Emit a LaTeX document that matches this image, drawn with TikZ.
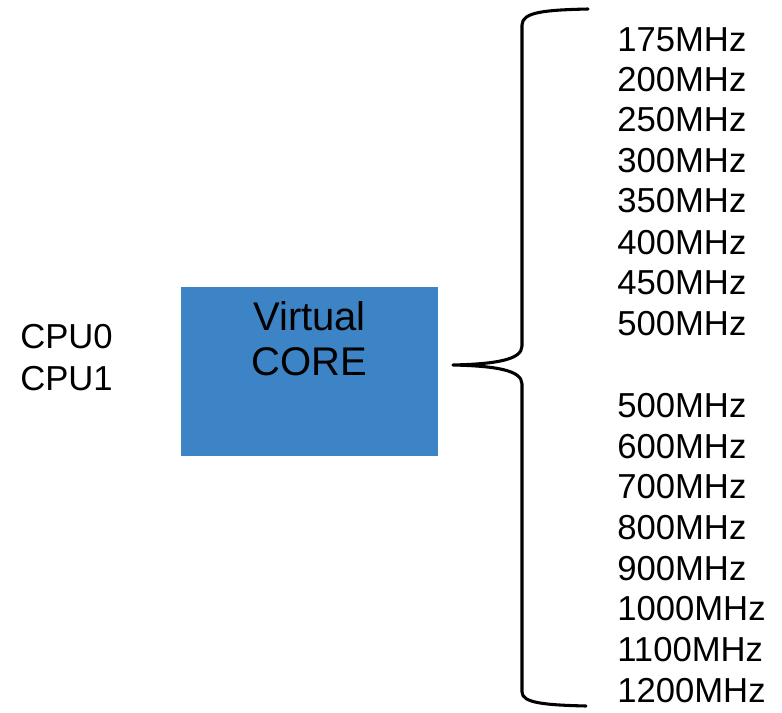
\documentclass[tikz,border=0pt]{standalone}
\usepackage{fontspec}
\setmainfont{Liberation Sans}
\usepackage{tikz}
\definecolor{vcBlue}{HTML}{3D84C6}

\begin{document}
\begin{tikzpicture}[x=0.75pt, y=-0.75pt,
  freq/.style={anchor=base west, inner sep=0pt, font=\fontsize{26}{31}\selectfont},
  cpu/.style={freq},
  box/.style={fill=vcBlue, minimum width=192.75pt, minimum height=126.75pt, inner sep=0pt},
  boxtext/.style={anchor=north, align=center, inner sep=0pt, font=\fontsize{30}{34}\selectfont}]
  \useasboundingbox (0,0) rectangle (782,713);
  \node[cpu] (cpu0) at (20,348) {CPU0};
  \node[cpu] (cpu1) at (20,390) {CPU1};
  \node[box] (core) at (309.5,371.5) {};
  \node[boxtext] (coretxt) at (309.5,301) {Virtual\\CORE};
  % brace
  \coordinate (tip) at (453,365);
  \draw[line width=2.3pt, line cap=round, line join=round]
    (588,9) .. controls (545,10) and (522,12) .. (522,25) -- (522,346)
    .. controls (522,360) and (495,364) .. (tip)
    .. controls (495,366) and (522,370) .. (522,384) -- (522,692)
    .. controls (522,703) and (545,705) .. (586,706);
  \node[freq] (f1)  at (617,52)  {175MHz};
  \node[freq] (f2)  at (617,92)  {200MHz};
  \node[freq] (f3)  at (617,132) {250MHz};
  \node[freq] (f4)  at (617,173) {300MHz};
  \node[freq] (f5)  at (617,213) {350MHz};
  \node[freq] (f6)  at (617,254) {400MHz};
  \node[freq] (f7)  at (617,294) {450MHz};
  \node[freq] (f8)  at (617,335) {500MHz};
  \node[freq] (f9)  at (617,417) {500MHz};
  \node[freq] (f10) at (617,458) {600MHz};
  \node[freq] (f11) at (617,498) {700MHz};
  \node[freq] (f12) at (617,539) {800MHz};
  \node[freq] (f13) at (617,580) {900MHz};
  \node[freq] (f14) at (617,620) {1000MHz};
  \node[freq] (f15) at (617,661) {1100MHz};
  \node[freq] (f16) at (617,702) {1200MHz};
\end{tikzpicture}
\end{document}
